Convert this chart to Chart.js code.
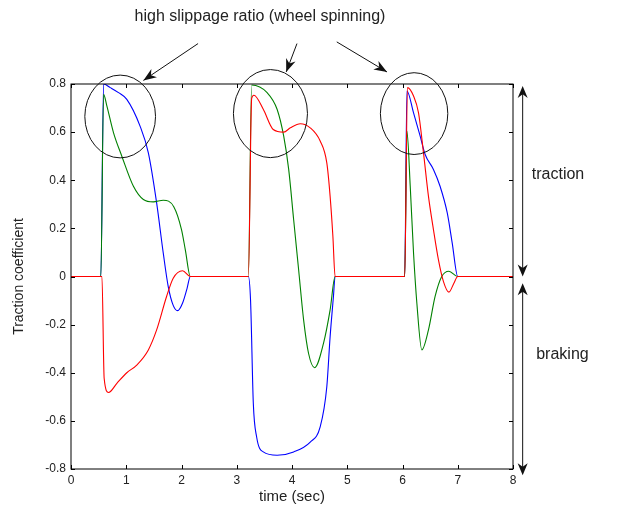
<!DOCTYPE html>
<html>
<head>
<meta charset="utf-8">
<script src="https://cdn.jsdelivr.net/npm/chart.js@4.4.1/dist/chart.umd.min.js"></script>
<style>
  html, body { margin: 0; padding: 0; background: #fff; }
  #wrap { width: 617px; height: 507px; }
</style>
</head>
<body>
<div id="wrap"><canvas id="tractionChart" width="617" height="507"></canvas></div>
<script>
// values (time in sec, traction coefficient)
const blueTime = [0, 0.54, 0.59, 0.71, 0.86, 1.01, 1.25, 1.40, 1.55, 1.67, 1.76, 1.85, 1.93, 2.02, 2.10, 2.16,
  3.21, 3.25, 3.30, 3.36, 3.48, 3.73, 4.03, 4.33, 4.51, 4.63, 4.69, 4.75, 4.78,
  6.04, 6.08, 6.20, 6.32, 6.41, 6.56, 6.68, 6.81, 6.90, 7.0, 8];
const blueValues = [0, 0, 0.80, 0.785, 0.764, 0.736, 0.625, 0.514, 0.306, 0.097, -0.042, -0.12, -0.142, -0.11, -0.05, 0,
  0, -0.10, -0.528, -0.667, -0.729, -0.743, -0.729, -0.688, -0.625, -0.458, -0.25, -0.083, 0,
  0, 0.771, 0.68, 0.583, 0.507, 0.445, 0.375, 0.264, 0.139, 0, 0];

const greenTime = [0, 0.54, 0.59, 0.65, 0.77, 0.92, 1.13, 1.31, 1.49, 1.67, 1.86, 2.0, 2.07, 2.16,
  3.21, 3.27, 3.55, 3.73, 3.85, 3.94, 4.03, 4.12, 4.21, 4.30, 4.41, 4.57, 4.69, 4.78,
  6.04, 6.08, 6.14, 6.20, 6.26, 6.35, 6.47, 6.59, 6.71, 6.84, 7.0, 8];
const greenValues = [0, 0, 0.757, 0.708, 0.597, 0.50, 0.375, 0.32, 0.31, 0.317, 0.29, 0.195, 0.11, 0,
  0, 0.796, 0.764, 0.695, 0.583, 0.445, 0.236, 0.028, -0.18, -0.32, -0.379, -0.278, -0.139, 0,
  0, 0.604, 0.375, 0.097, -0.111, -0.305, -0.222, -0.083, 0, 0.022, 0, 0];

const redTime = [0, 0.56, 0.60, 0.68, 0.83, 1.01, 1.19, 1.40, 1.55, 1.73, 1.85, 2.02, 2.16,
  3.21, 3.27, 3.31, 3.48, 3.66, 3.85, 3.97, 4.15, 4.33, 4.51, 4.63, 4.69, 4.74, 4.78,
  6.04, 6.09, 6.20, 6.29, 6.38, 6.47, 6.56, 6.65, 6.74, 6.84, 6.93, 7.0, 8];
const redValues = [0, 0, -0.423, -0.482, -0.444, -0.40, -0.368, -0.305, -0.222, -0.083, -0.007, 0.024, 0,
  0, 0.74, 0.753, 0.695, 0.611, 0.60, 0.618, 0.635, 0.618, 0.563, 0.472, 0.333, 0.167, 0,
  0, 0.785, 0.75, 0.68, 0.514, 0.333, 0.195, 0.07, -0.02, -0.065, -0.028, 0, 0];

const xTicks = [0, 1, 2, 3, 4, 5, 6, 7, 8];
const yTicks = [-0.8, -0.6, -0.4, -0.2, 0, 0.2, 0.4, 0.6, 0.8];

const FONT = 'Liberation Sans, Arial, Helvetica, sans-serif';

function toPoints(times, values) {
    return times.map((t, i) => ({ x: t, y: values[i] }));
}

// notes drawn on top of the plot, placed in data units
const slipCircles = [
    { t: 0.89, v: 0.665, rt: 0.64, rv: 0.172 },
    { t: 3.61, v: 0.677, rt: 0.67, rv: 0.183 },
    { t: 6.21, v: 0.677, rt: 0.61, rv: 0.170 }
];
const slipArrows = [
    { t1: 2.30, v1: 0.968, t2: 1.31, v2: 0.815 },
    { t1: 4.09, v1: 0.968, t2: 3.895, v2: 0.85 },
    { t1: 4.81, v1: 0.975, t2: 5.72, v2: 0.85 }
];

function arrowHead(ctx, x1, y1, x2, y2, len, half) {
    const a = Math.atan2(y2 - y1, x2 - x1);
    const c = Math.cos(a), s = Math.sin(a);
    ctx.beginPath();
    ctx.moveTo(x2, y2);
    ctx.lineTo(x2 - len * c + half * s, y2 - len * s - half * c);
    ctx.lineTo(x2 - 0.7 * len * c, y2 - 0.7 * len * s);
    ctx.lineTo(x2 - len * c - half * s, y2 - len * s + half * c);
    ctx.closePath();
    ctx.fill();
}

function doubleArrow(ctx, x, y1, y2) {
    ctx.beginPath();
    ctx.moveTo(x, y1 + 6);
    ctx.lineTo(x, y2 - 6);
    ctx.stroke();
    arrowHead(ctx, x, y2, x, y1, 12, 5);
    arrowHead(ctx, x, y1, x, y2, 12, 5);
}

const framePlugin = {
    id: 'frame',
    afterDatasetsDraw(chart) {
        const { ctx, chartArea: a, scales: { x, y } } = chart;
        ctx.save();
        ctx.strokeStyle = '#000';
        ctx.lineWidth = 1;
        ctx.strokeRect(a.left, a.top, a.right - a.left, a.bottom - a.top);
        ctx.beginPath();
        xTicks.forEach(t => {
            const px = Math.round(x.getPixelForValue(t)) + 0.5;
            ctx.moveTo(px, a.bottom); ctx.lineTo(px, a.bottom - 4);
            ctx.moveTo(px, a.top); ctx.lineTo(px, a.top + 4);
        });
        yTicks.forEach(v => {
            const py = Math.round(y.getPixelForValue(v)) + 0.5;
            ctx.moveTo(a.left, py); ctx.lineTo(a.left + 4, py);
            ctx.moveTo(a.right, py); ctx.lineTo(a.right - 4, py);
        });
        ctx.stroke();
        ctx.restore();
    },
    afterDraw(chart) {
        const { ctx, scales: { x, y } } = chart;
        ctx.save();
        ctx.strokeStyle = '#111';
        ctx.fillStyle = '#111';
        ctx.lineWidth = 1;

        slipCircles.forEach(c => {
            const cx = x.getPixelForValue(c.t), cy = y.getPixelForValue(c.v);
            const rx = x.getPixelForValue(c.t + c.rt) - cx;
            const ry = cy - y.getPixelForValue(c.v + c.rv);
            ctx.beginPath();
            ctx.ellipse(cx, cy, rx, ry, 0, 0, Math.PI * 2);
            ctx.stroke();
        });

        slipArrows.forEach(ar => {
            const x1 = x.getPixelForValue(ar.t1), y1 = y.getPixelForValue(ar.v1);
            const x2 = x.getPixelForValue(ar.t2), y2 = y.getPixelForValue(ar.v2);
            ctx.beginPath();
            ctx.moveTo(x1, y1);
            ctx.lineTo(x2, y2);
            ctx.stroke();
            arrowHead(ctx, x1, y1, x2, y2, 13, 5);
        });

        const ax = x.getPixelForValue(8.175);
        doubleArrow(ctx, ax, y.getPixelForValue(0.792), y.getPixelForValue(0));
        doubleArrow(ctx, ax, y.getPixelForValue(-0.028), y.getPixelForValue(-0.826));

        ctx.fillStyle = '#222';
        ctx.font = '16px ' + FONT;
        ctx.textBaseline = 'alphabetic';
        ctx.textAlign = 'center';
        ctx.fillText('high slippage ratio (wheel spinning)', x.getPixelForValue(3.42), y.getPixelForValue(1.0625));
        ctx.textAlign = 'left';
        ctx.textBaseline = 'middle';
        ctx.fillText('traction', x.getPixelForValue(8.34), y.getPixelForValue(0.424));
        ctx.fillText('braking', x.getPixelForValue(8.42), y.getPixelForValue(-0.326));
        ctx.restore();
    }
};

const lineStyle = {
    showLine: true,
    borderWidth: 1.1,
    pointRadius: 0,
    fill: false,
    cubicInterpolationMode: 'monotone'
};

new Chart(document.getElementById('tractionChart'), {
    type: 'scatter',
    data: {
        datasets: [
            Object.assign({ label: 'red', data: toPoints(redTime, redValues), borderColor: '#ff0000', order: 0 }, lineStyle),
            Object.assign({ label: 'green', data: toPoints(greenTime, greenValues), borderColor: '#008000', order: 1 }, lineStyle),
            Object.assign({ label: 'blue', data: toPoints(blueTime, blueValues), borderColor: '#0000ff', order: 2 }, lineStyle)
        ]
    },
    options: {
        responsive: false,
        animation: false,
        devicePixelRatio: 1,
        layout: { padding: { top: 84, right: 104, left: 0, bottom: 0 } },
        plugins: {
            legend: { display: false },
            tooltip: { enabled: false }
        },
        scales: {
            x: {
                type: 'linear',
                min: 0,
                max: 8,
                afterBuildTicks: scale => { scale.ticks = xTicks.map(v => ({ value: v })); },
                grid: { display: false, drawTicks: false, tickLength: 0 },
                border: { display: false },
                ticks: { color: '#222', font: { family: FONT, size: 12 }, padding: 4, maxRotation: 0 },
                title: { display: true, text: 'time (sec)', color: '#222', font: { family: FONT, size: 15 }, padding: { top: 0, bottom: 1 } },
                afterFit: scale => { scale.height = 38; }
            },
            y: {
                type: 'linear',
                min: -0.8,
                max: 0.8,
                afterBuildTicks: scale => { scale.ticks = yTicks.map(v => ({ value: v })); },
                grid: { display: false, drawTicks: false, tickLength: 0 },
                border: { display: false },
                ticks: {
                    color: '#222',
                    font: { family: FONT, size: 12 },
                    padding: 5,
                    callback: v => String(Math.round(v * 10) / 10)
                },
                title: { display: true, text: 'Traction coefficient', color: '#222', font: { family: FONT, size: 14 }, padding: { top: 11, bottom: 0 } },
                afterFit: scale => { scale.width = 71; }
            }
        }
    },
    plugins: [framePlugin]
});
</script>
</body>
</html>
